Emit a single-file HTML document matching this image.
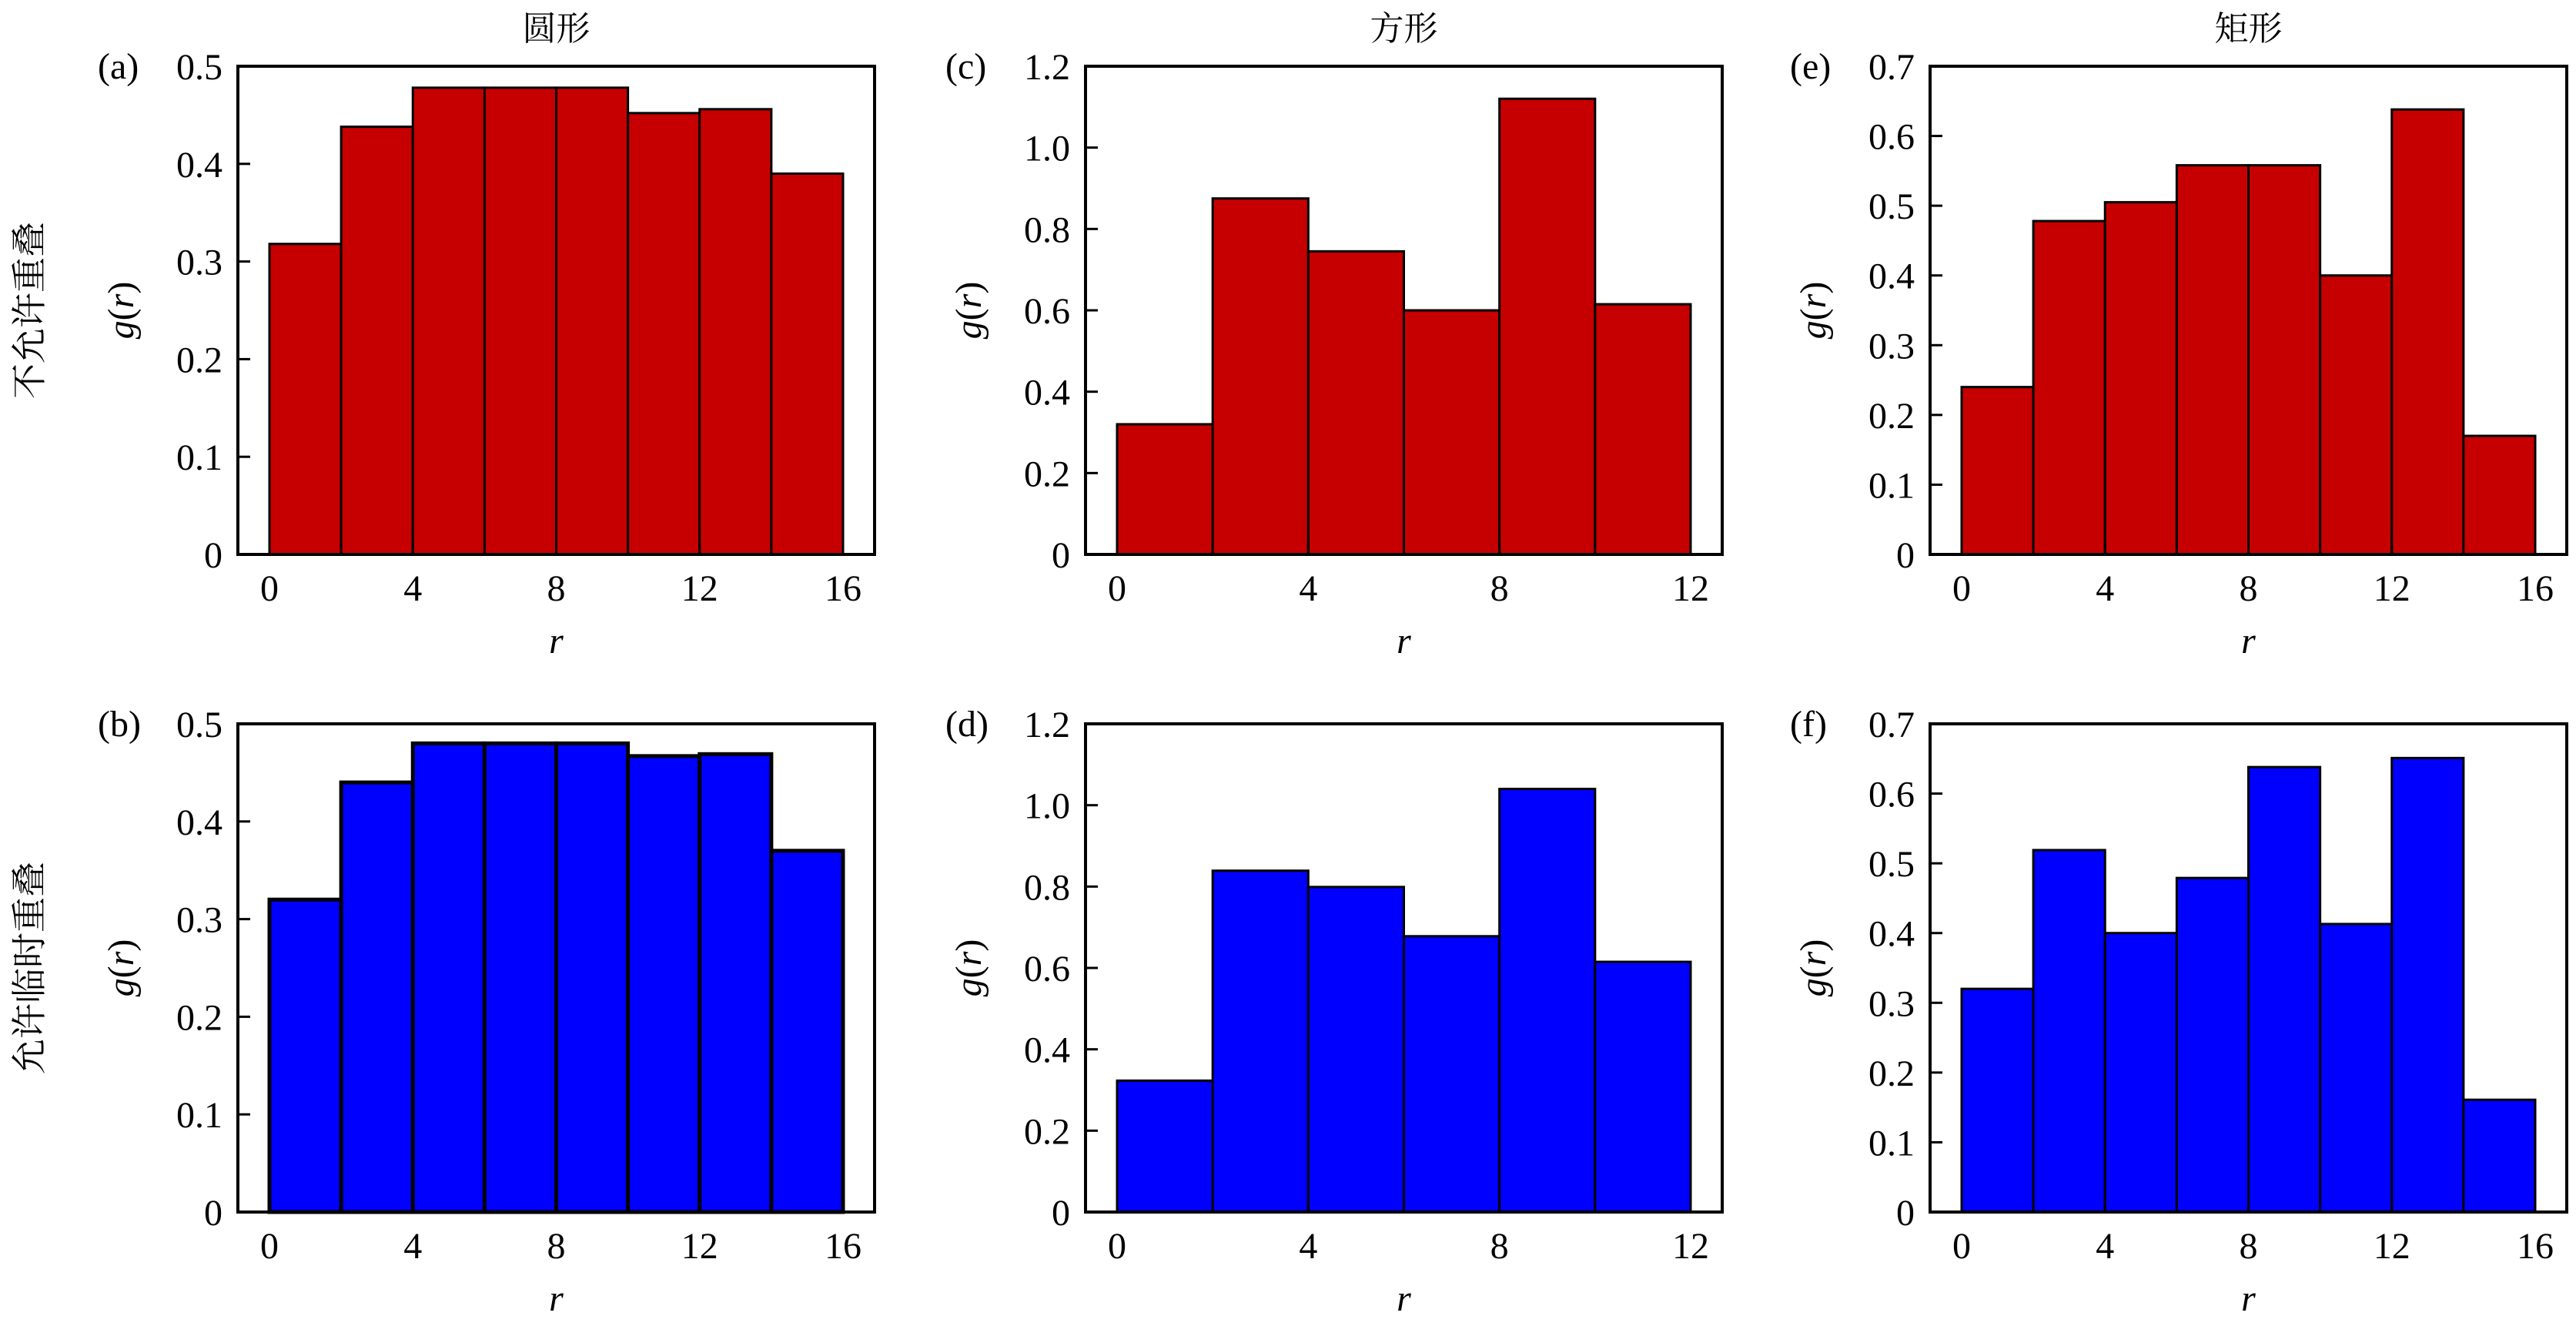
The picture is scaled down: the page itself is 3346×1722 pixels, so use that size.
<!DOCTYPE html>
<html><head><meta charset="utf-8"><style>
html,body{margin:0;padding:0;background:#fff;}
svg{display:block;}
text{font-family:"Liberation Serif","Noto Serif CJK SC",serif;fill:#000;}
.cjk{font-family:"Noto Serif CJK SC","Noto Sans CJK SC",serif;}
</style></head><body>
<svg id="chart" width="3346" height="1722" viewBox="0 0 3346 1722" xmlns="http://www.w3.org/2000/svg"></svg>
<script>
const panelLabels = ['(a)','(b)','(c)','(d)','(e)','(f)'];
const colTitles = ['圆形','方形','矩形'];
const rowTitles = ['不允许重叠','允许临时重叠'];
const xMaxes = [16,12,16];
const yMaxes = [0.5,1.2,0.7];
const xTicks16 = [0,4,8,12,16];
const xTicks12 = [0,4,8,12];
const yTicksA = ['0','0.1','0.2','0.3','0.4','0.5'];
const yTicksC = ['0','0.2','0.4','0.6','0.8','1.0','1.2'];
const yTicksE = ['0','0.1','0.2','0.3','0.4','0.5','0.6','0.7'];
const binWidth = 2;
const valuesA = [0.318,0.438,0.478,0.478,0.478,0.452,0.456,0.390];
const valuesB = [0.320,0.440,0.480,0.480,0.480,0.467,0.469,0.370];
const valuesC = [0.32,0.875,0.745,0.60,1.12,0.615];
const valuesD = [0.323,0.839,0.799,0.678,1.040,0.615];
const valuesE = [0.24,0.478,0.505,0.558,0.558,0.40,0.638,0.17];
const valuesF = [0.32,0.519,0.400,0.479,0.638,0.413,0.651,0.161];

const NS='http://www.w3.org/2000/svg';
const svg=document.getElementById('chart');
function mk(tag,attrs,parent){const e=document.createElementNS(NS,tag);for(const k in attrs)e.setAttribute(k,attrs[k]);(parent||svg).appendChild(e);return e;}

const colLeft=[309,1410,2507], rowTop=[86,940], W=827, H=634, PAD=41;
const panels=[
 {c:0,r:0,v:valuesA,lab:0,yt:yTicksA,xt:xTicks16,col:'#c60000',sw:3},
 {c:0,r:1,v:valuesB,lab:1,yt:yTicksA,xt:xTicks16,col:'#0000ff',sw:5},
 {c:1,r:0,v:valuesC,lab:2,yt:yTicksC,xt:xTicks12,col:'#c60000',sw:3},
 {c:1,r:1,v:valuesD,lab:3,yt:yTicksC,xt:xTicks12,col:'#0000ff',sw:3},
 {c:2,r:0,v:valuesE,lab:4,yt:yTicksE,xt:xTicks16,col:'#c60000',sw:3},
 {c:2,r:1,v:valuesF,lab:5,yt:yTicksE,xt:xTicks16,col:'#0000ff',sw:3}
];
panels.forEach(p=>{
  const L=colLeft[p.c], T=rowTop[p.r], B=T+H, R=L+W;
  const xmax=xMaxes[p.c], ymax=yMaxes[p.c];
  const xs=v=>L+PAD+v/xmax*(W-2*PAD);
  const ys=v=>B-v/ymax*H;
  const g=mk('g',{});
  
  
  p.v.forEach((val,i)=>{
    const x0=xs(i*binWidth), x1=xs((i+1)*binWidth), y=ys(val);
    const b=mk('rect',{x:x0,y:y,width:x1-x0,height:B-y,fill:p.col,stroke:'#000','stroke-width':p.sw},g);
    
    
  });
  const box=mk('rect',{x:L,y:T,width:W,height:H,fill:'none',stroke:'#000','stroke-width':4},g);
  
  
  p.yt.forEach(t=>{
    const y=ys(parseFloat(t));
    mk('line',{x1:L,x2:L+16,y1:y,y2:y,stroke:'#000','stroke-width':3},g);
    const tx=mk('text',{x:L-20,y:y+17,'text-anchor':'end','font-size':48},g);
    tx.textContent=t;
    
    
  });
  p.xt.forEach(t=>{
    const x=xs(t);
    mk('line',{x1:x,x2:x,y1:B,y2:B-16,stroke:'#000','stroke-width':3},g);
    const tx=mk('text',{x:x,y:B+60,'text-anchor':'middle','font-size':48},g);
    tx.textContent=t;
    
    
  });
  const xl=mk('text',{x:(L+R)/2,y:B+128,'text-anchor':'middle','font-size':48,'font-style':'italic'},g);
  xl.textContent='r';
  
  
  const yx=L-150, yy=(T+B)/2;
  const yl=mk('text',{x:yx,y:yy,'text-anchor':'middle','font-size':48,transform:`rotate(-90 ${yx} ${yy})`,dy:14},g);
  yl.innerHTML='<tspan font-style="italic">g</tspan>(<tspan font-style="italic">r</tspan>)';
  
  
  const pl=mk('text',{x:L-182,y:T+16,'font-size':48},g);
  pl.textContent=panelLabels[p.lab];
  
  
  if(p.r===0){
    const ct=mk('text',{x:(L+R)/2,y:52,'text-anchor':'middle','font-size':44,'class':'cjk'},g);
    ct.textContent=colTitles[p.c];
    
    
  }
});
rowTitles.forEach((t,i)=>{
  const x=38, y=rowTop[i]+H/2;
  const e=mk('text',{x:x,y:y,'text-anchor':'middle','font-size':46,'class':'cjk',transform:`rotate(-90 ${x} ${y})`,dy:16});
  e.textContent=t;
  
  
});
</script>
</body></html>
